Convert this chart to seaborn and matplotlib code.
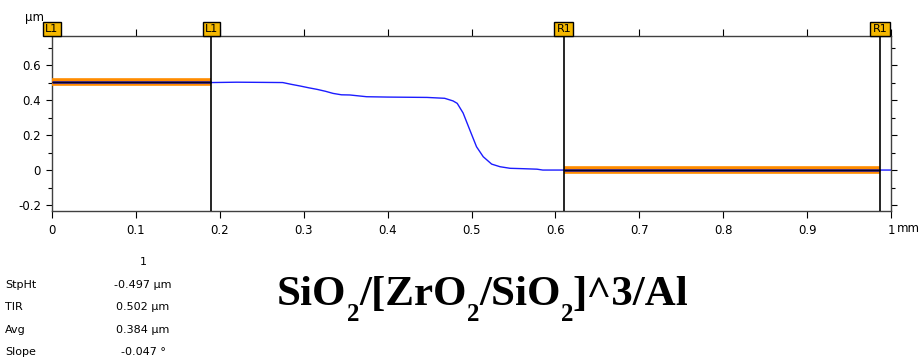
import numpy as np
import pandas as pd
import matplotlib
matplotlib.use("Agg")
import matplotlib.pyplot as plt
import matplotlib.transforms as mtransforms
from matplotlib.ticker import MultipleLocator
import seaborn as sns

# perfil medido (mm, µm)
prof_x = [0.0, 0.05, 0.10, 0.15, 0.19, 0.22, 0.25, 0.275, 0.285, 0.296, 0.306,
          0.316, 0.326, 0.335, 0.345, 0.355, 0.375, 0.40, 0.447, 0.468, 0.478,
          0.483, 0.49, 0.498, 0.506, 0.514, 0.524, 0.534, 0.546, 0.56, 0.578,
          0.585, 0.62, 0.7, 0.8, 0.9, 1.0]
prof_y = [0.497, 0.497, 0.498, 0.497, 0.50, 0.502, 0.501, 0.50, 0.49, 0.48, 0.47,
          0.461, 0.45, 0.438, 0.43, 0.429, 0.419, 0.417, 0.415, 0.41, 0.395,
          0.381, 0.326, 0.229, 0.133, 0.076, 0.034, 0.019, 0.01, 0.008, 0.005,
          0.0, 0.0, 0.0, 0.0, 0.0, 0.0]

# cursores
cursor_x = [0.0, 0.19, 0.61, 0.987]
cursor_lbl = ["L1", "L1", "R1", "R1"]

# ajustes de nivel en las zonas L y R
band_x = [[0.0, 0.19], [0.61, 0.987]]
band_y = [0.501, 0.0]

# resultados
res_names = ["StpHt", "TIR", "Avg", "Slope"]
res_vals = ["-0.497 µm", "0.502 µm", "0.384 µm", "-0.047 °"]

xticks = [0, 0.1, 0.2, 0.3, 0.4, 0.5, 0.6, 0.7, 0.8, 0.9, 1.0]
xtick_lbl = ["0", "0.1", "0.2", "0.3", "0.4", "0.5", "0.6", "0.7", "0.8", "0.9", "1"]
yticks = [-0.2, 0, 0.2, 0.4, 0.6]
ytick_lbl = ["-0.2", "0", "0.2", "0.4", "0.6"]

# titulo: (texto, es_subindice)
title_parts = [("SiO", False), ("2", True), ("/[ZrO", False), ("2", True),
               ("/SiO", False), ("2", True), ("]^3/Al", False)]

sns.set_style("white")
plt.rcParams["font.family"] = ["DejaVu Sans"]
plt.rcParams["text.color"] = "black"
plt.rcParams["xtick.color"] = "black"
plt.rcParams["ytick.color"] = "black"

fig = plt.figure(figsize=(9.23, 3.61), dpi=100)
ax = fig.add_axes([52 / 923, 1 - 211 / 361, (891 - 52) / 923, (211 - 36) / 361])

df = pd.DataFrame({"x": prof_x, "y": prof_y})
sns.lineplot(data=df, x="x", y="y", ax=ax, color="#1c1cff", linewidth=1.0, zorder=2)

for (x0, x1), yv in zip(band_x, band_y):
    ax.plot([x0, x1], [yv, yv], color="#ff8c00", linewidth=5.5, solid_capstyle="butt", zorder=3)
    ax.plot([x0, x1], [yv, yv], color="#10109a", linewidth=1.8, solid_capstyle="butt", zorder=4)
    ax.plot([x0, x1], [yv, yv], color="black", linewidth=0.5, zorder=5)

trans = mtransforms.blended_transform_factory(ax.transData, ax.transAxes)
for cx, lbl in zip(cursor_x, cursor_lbl):
    if cx > 0:
        ax.axvline(cx, color="black", linewidth=1.2, zorder=6)
    ax.text(cx, 1.012, lbl, transform=trans, ha="center", va="bottom", fontsize=8,
            bbox=dict(boxstyle="square,pad=0.2", facecolor="#f5b800", edgecolor="black", linewidth=1))

ax.set_xlim(0, 1.0)
ax.set_ylim(-0.234, 0.766)
ax.set_xticks(xticks)
ax.set_xticklabels(xtick_lbl, fontsize=8.5)
ax.set_yticks(yticks)
ax.set_yticklabels(ytick_lbl, fontsize=8.5)
ax.yaxis.set_minor_locator(MultipleLocator(0.1))
ax.xaxis.set_minor_locator(MultipleLocator(0.1))
ax.tick_params(axis="both", which="both", direction="out", length=3, width=0.8,
               bottom=True, left=True, top=True, right=True, labeltop=False, labelright=False)
ax.tick_params(axis="x", which="major", length=5, pad=4)
ax.tick_params(axis="y", which="major", length=4, pad=4)
ax.set_xlabel("")
ax.set_ylabel("")
for s in ax.spines.values():
    s.set_color("#404040")
    s.set_linewidth(1.0)

fig.text(897 / 923, 1 - 228 / 361, "mm", fontsize=8.5, ha="left", va="center")
fig.text(35 / 923, 1 - 17 / 361, "µm", fontsize=8.5, ha="center", va="center")

# tabla de resultados
fig.text(143 / 923, 1 - 262 / 361, "1", fontsize=8, ha="center", va="center")
for i, (n, v) in enumerate(zip(res_names, res_vals)):
    yy = 1 - (285 + i * 22.3) / 361
    fig.text(5 / 923, yy, n, fontsize=8, ha="left", va="center")
    fig.text(143 / 923, yy, v, fontsize=8, ha="center", va="center")

# titulo con subindices, pieza por pieza
renderer = fig.canvas.get_renderer()
xpos = 277.0
for txt, sub in title_parts:
    size = 18 if sub else 31
    base = 321 if sub else 305
    t = fig.text(xpos / 923, 1 - base / 361, txt, fontsize=size, fontweight="bold",
                 family=["Liberation Serif"], ha="left", va="baseline")
    xpos += t.get_window_extent(renderer).width

fig.savefig("out.png", dpi=100)
